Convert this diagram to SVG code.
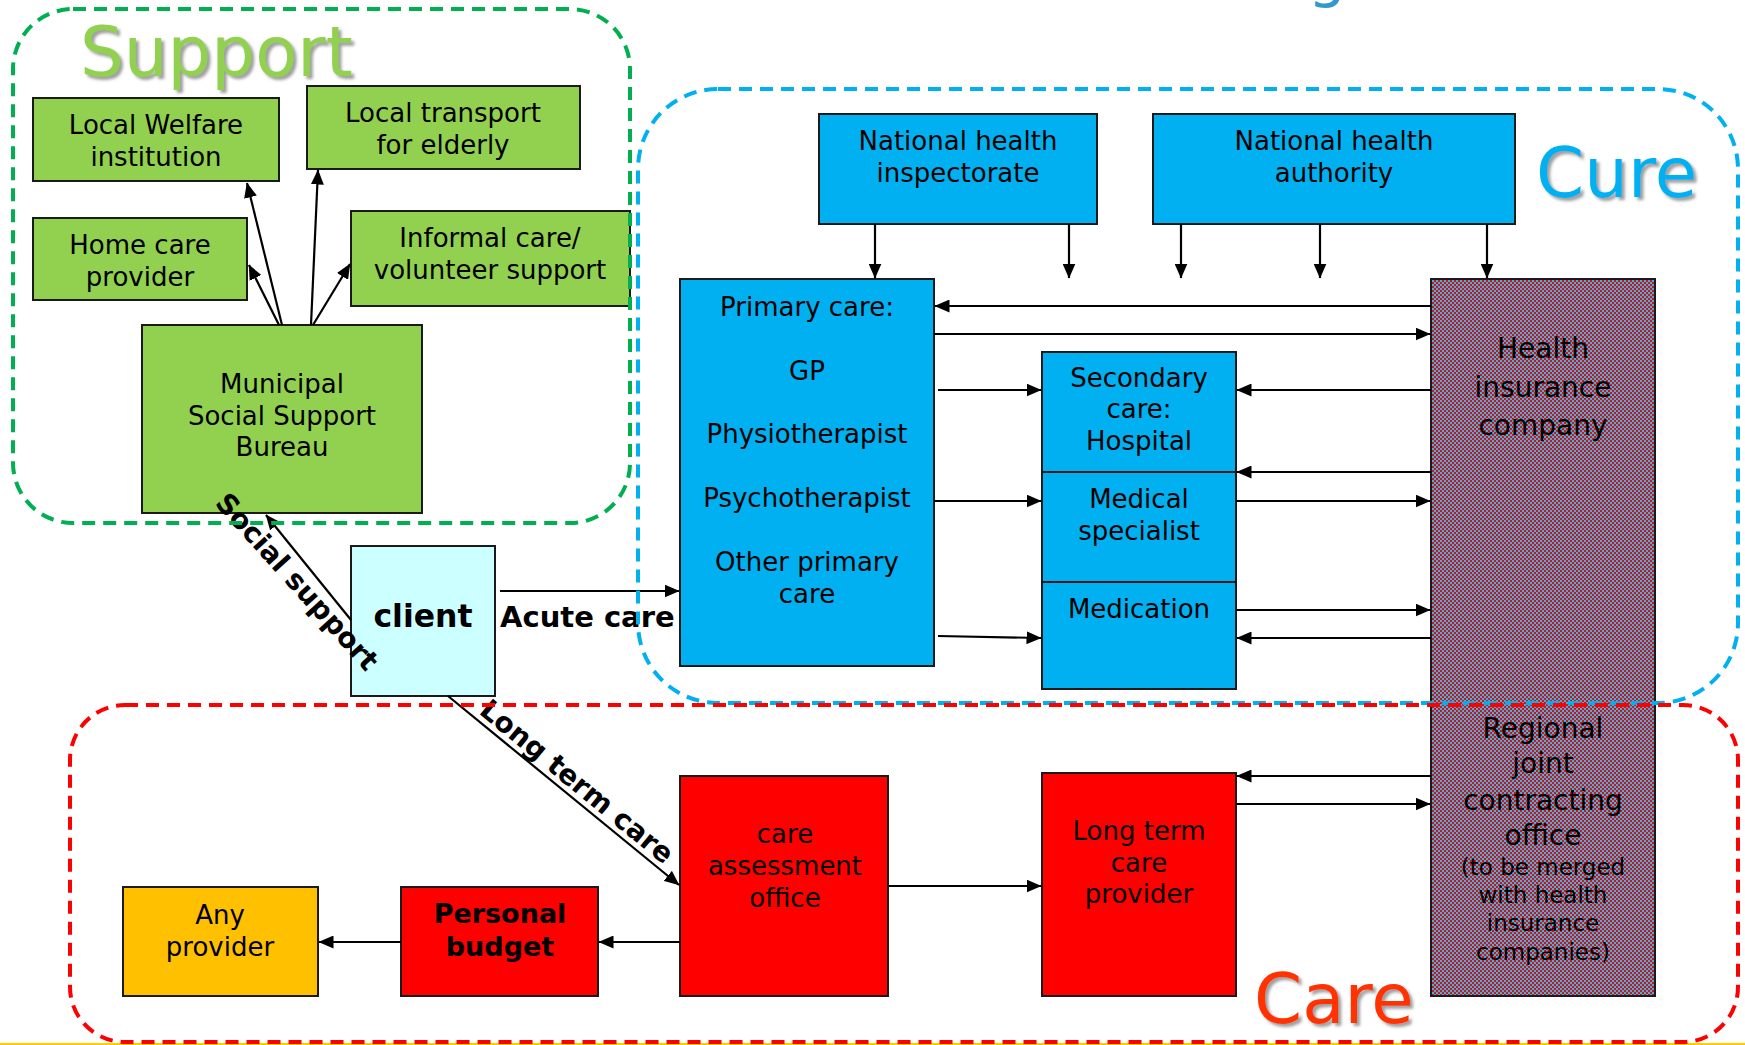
<svg xmlns="http://www.w3.org/2000/svg" width="1745" height="1045" viewBox="0 0 1745 1045">
<style>
.box{stroke:#1a1a1a;stroke-width:2}
.g{fill:#92D050}.b{fill:#00B0F0}.r{fill:#FF0000}.y{fill:#FFC000}.c{fill:#CCFFFF}
.t{font-family:"DejaVu Sans",Verdana,sans-serif;font-size:26px;fill:#000;text-anchor:middle}
.tb{font-family:"DejaVu Sans",Verdana,sans-serif;font-weight:bold;font-size:28px;fill:#000}
.big{font-size:28px}.small{font-size:23px}
.title{font-family:"DejaVu Sans",Verdana,sans-serif;font-size:69px}
.con{fill:none;stroke-width:4;stroke-dasharray:13 8}
.ln{stroke:#000;stroke-width:2.2;fill:none;marker-end:url(#ah)}
</style>
<defs>
<marker id="ah" markerUnits="userSpaceOnUse" markerWidth="15" markerHeight="13" refX="14.5" refY="6.5" orient="auto">
<path d="M0,0 L15,6.5 L0,13 z" fill="#000"/>
</marker>
<pattern id="chk" patternUnits="userSpaceOnUse" width="4" height="4">
<rect width="4" height="4" fill="#FF0000"/>
<rect width="2" height="2" fill="#18C2F8"/>
<rect x="2" y="2" width="2" height="2" fill="#18C2F8"/>
</pattern>
<filter id="sh" x="-10%" y="-10%" width="130%" height="140%">
<feDropShadow dx="3" dy="3" stdDeviation="1.5" flood-color="#7f7f7f" flood-opacity="0.75"/>
</filter>
</defs>
<rect x="0" y="1043" width="1745" height="2" fill="#FFCC00"/>
<text x="1327" y="-5" font-family="DejaVu Sans,sans-serif" font-size="60" text-anchor="middle" fill="#3399CC">g</text>

<g id="welfare"><rect class="box g" x="33" y="98" width="246" height="83"/><text class="t" x="156" y="134">Local Welfare</text><text class="t" x="156" y="166">institution</text></g>
<g id="transport"><rect class="box g" x="307" y="86" width="273" height="83"/><text class="t" x="443" y="122">Local transport</text><text class="t" x="443" y="154">for elderly</text></g>
<g id="homecare"><rect class="box g" x="33" y="218" width="214" height="82"/><text class="t" x="140" y="254">Home care</text><text class="t" x="140" y="286">provider</text></g>
<g id="informal"><rect class="box g" x="351" y="211" width="279" height="95"/><text class="t" x="490" y="247">Informal care/</text><text class="t" x="490" y="279">volunteer support</text></g>
<g id="municipal"><rect class="box g" x="142" y="325" width="280" height="188"/><text class="t" x="282" y="393">Municipal</text><text class="t" x="282" y="425">Social Support</text><text class="t" x="282" y="456">Bureau</text></g>
<g id="client"><rect class="box c" x="351" y="546" width="144" height="150"/><text class="tb" x="423" y="627" style="font-size:31.5px" text-anchor="middle">client</text></g>
<g id="inspectorate"><rect class="box b" x="819" y="114" width="278" height="110"/><text class="t" x="958" y="150">National health</text><text class="t" x="958" y="182">inspectorate</text></g>
<g id="authority"><rect class="box b" x="1153" y="114" width="362" height="110"/><text class="t" x="1334" y="150">National health</text><text class="t" x="1334" y="182">authority</text></g>
<g id="primary"><rect class="box b" x="680" y="279" width="254" height="387"/><text class="t" x="807" y="316">Primary care:</text><text class="t" x="807" y="380">GP</text><text class="t" x="807" y="443">Physiotherapist</text><text class="t" x="807" y="507">Psychotherapist</text><text class="t" x="807" y="571">Other primary</text><text class="t" x="807" y="603">care</text></g>
<g id="secondary"><rect class="box b" x="1042" y="352" width="194" height="120"/><text class="t" x="1139" y="387">Secondary</text><text class="t" x="1139" y="418">care:</text><text class="t" x="1139" y="450">Hospital</text></g>
<g id="medical"><rect class="box b" x="1042" y="472" width="194" height="110"/><text class="t" x="1139" y="508">Medical</text><text class="t" x="1139" y="540">specialist</text></g>
<g id="medication"><rect class="box b" x="1042" y="582" width="194" height="107"/><text class="t" x="1139" y="618">Medication</text></g>
<g id="insurance"><rect class="box" fill="url(#chk)" x="1431" y="279" width="224" height="717"/>
<text class="t big" x="1543" y="358">Health</text><text class="t big" x="1543" y="397">insurance</text><text class="t big" x="1543" y="435">company</text>
<text class="t big" x="1543" y="738">Regional</text><text class="t big" x="1543" y="773">joint</text><text class="t big" x="1543" y="810">contracting</text><text class="t big" x="1543" y="845">office</text>
<text class="t small" x="1543" y="875">(to be merged</text><text class="t small" x="1543" y="903">with health</text><text class="t small" x="1543" y="931">insurance</text><text class="t small" x="1543" y="960">companies)</text></g>
<g id="assessment"><rect class="box r" x="680" y="776" width="208" height="220"/><text class="t" x="785" y="843">care</text><text class="t" x="785" y="875">assessment</text><text class="t" x="785" y="907">office</text></g>
<g id="ltcprovider"><rect class="box r" x="1042" y="773" width="194" height="223"/><text class="t" x="1139" y="840">Long term</text><text class="t" x="1139" y="872">care</text><text class="t" x="1139" y="903">provider</text></g>
<g id="personal"><rect class="box r" x="401" y="887" width="197" height="109"/><text class="tb" x="500" y="923" style="font-size:27px" text-anchor="middle">Personal</text><text class="tb" x="500" y="956" style="font-size:27px" text-anchor="middle">budget</text></g>
<g id="anyprovider"><rect class="box y" x="123" y="887" width="195" height="109"/><text class="t" x="220" y="924">Any</text><text class="t" x="220" y="956">provider</text></g>

<g id="connectors">
<path class="ln" d="M282 325 L247 183"/>
<path class="ln" d="M279 325 L249 265"/>
<path class="ln" d="M311 325 L318 170"/>
<path class="ln" d="M313 325 L350 264"/>
<path class="ln" d="M351 620 L266 515"/>
<path class="ln" d="M500 591 H679"/>
<path class="ln" d="M448 696 L679 885"/>
<path class="ln" d="M875 224 V278"/>
<path class="ln" d="M1069 224 V278"/>
<path class="ln" d="M1181 224 V278"/>
<path class="ln" d="M1320 224 V278"/>
<path class="ln" d="M1487 224 V278"/>
<path class="ln" d="M1431 306 H935"/>
<path class="ln" d="M934 334 H1430"/>
<path class="ln" d="M938 390 H1041"/>
<path class="ln" d="M1431 390 H1237"/>
<path class="ln" d="M1431 472 H1237"/>
<path class="ln" d="M934 501 H1041"/>
<path class="ln" d="M1236 501 H1430"/>
<path class="ln" d="M1236 610 H1430"/>
<path class="ln" d="M1431 638 H1237"/>
<path class="ln" d="M938 636 L1041 638"/>
<path class="ln" d="M1431 776 H1237"/>
<path class="ln" d="M1236 804 H1430"/>
<path class="ln" d="M889 886 H1041"/>
<path class="ln" d="M680 942 H599"/>
<path class="ln" d="M401 942 H319"/>
<text class="tb" x="500" y="627" style="font-size:29px">Acute care</text>
<text class="tb" text-anchor="middle" transform="translate(290,588) rotate(48)">Social support</text>
<text class="tb" text-anchor="middle" transform="translate(571,789) rotate(39.3)">Long term care</text>
</g>

<g id="containers">
<rect class="con" stroke="#00B050" x="13" y="9" width="617" height="514" rx="60"/>
<rect class="con" stroke="#00B0F0" x="638" y="89" width="1100" height="614" rx="80"/>
<rect class="con" stroke="#FF0000" x="70" y="705" width="1668" height="337" rx="55"/>
<text class="title" x="80" y="76" fill="#92D050" filter="url(#sh)">Support</text>
<text class="title" x="1536" y="197" fill="#00B0F0" filter="url(#sh)">Cure</text>
<text class="title" x="1254" y="1023" fill="#FF3300" filter="url(#sh)">Care</text>
</g>
</svg>
